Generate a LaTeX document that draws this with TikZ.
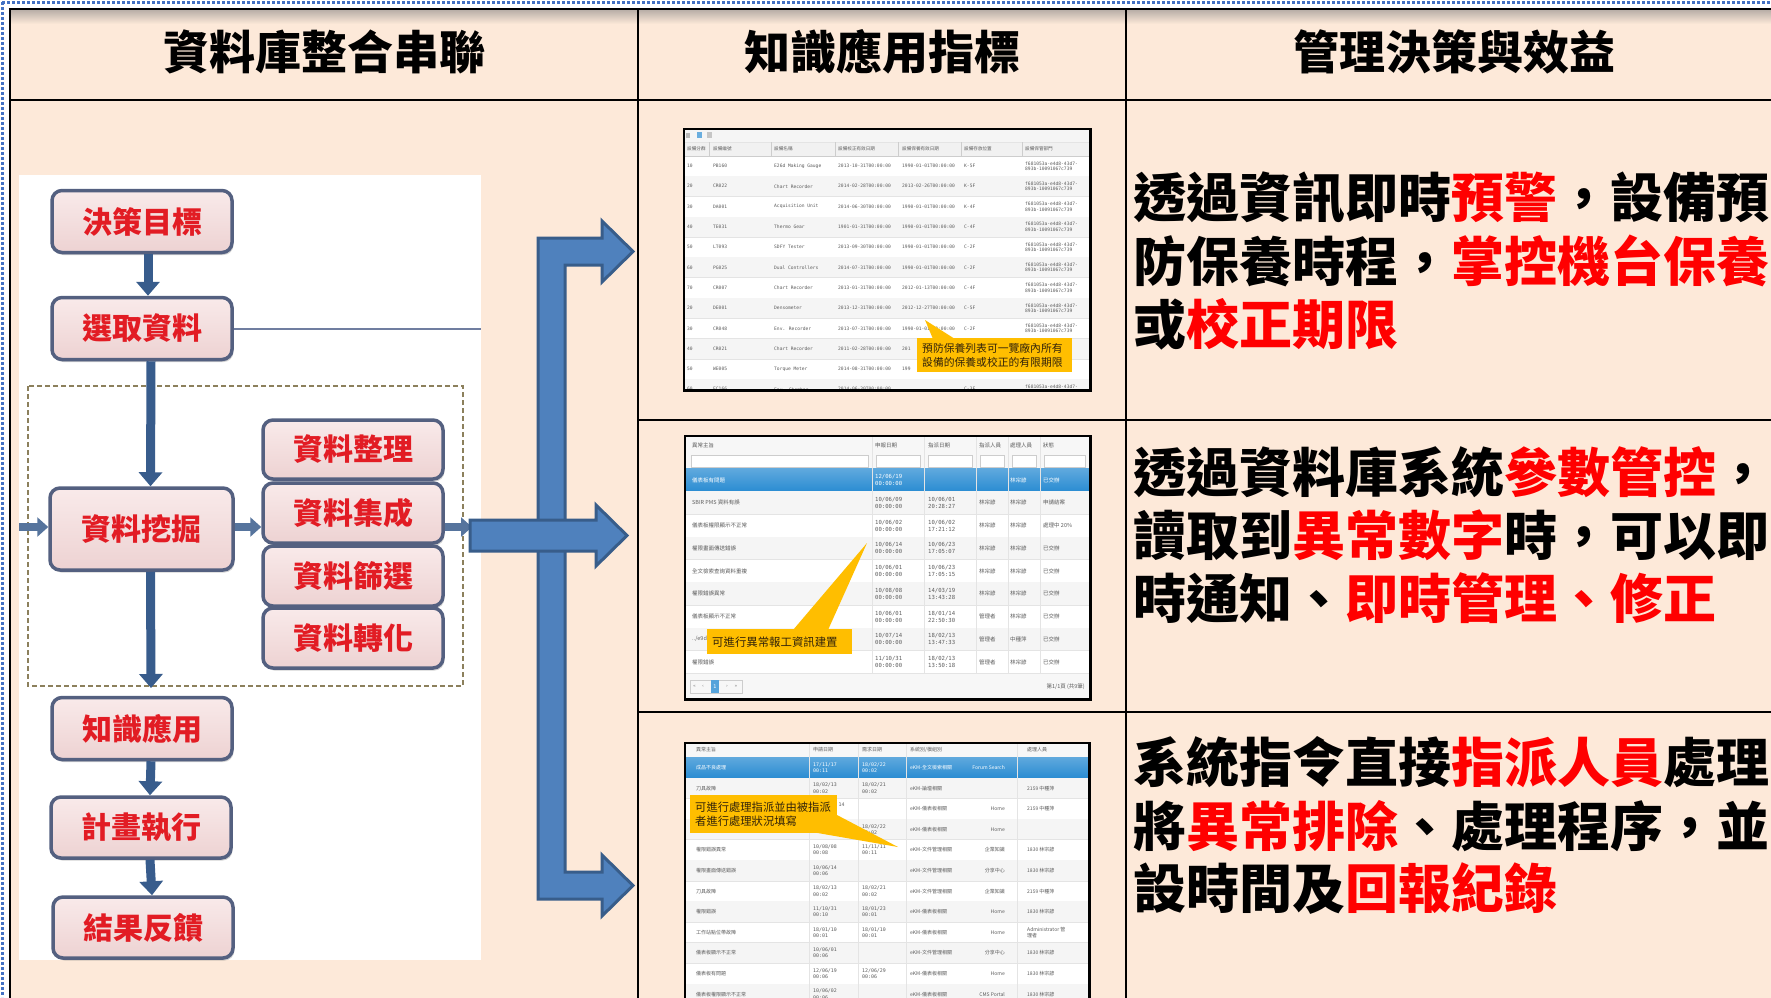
\documentclass[tikz,border=0pt]{standalone}
\usepackage{fontspec}
\setmainfont{Noto Sans CJK TC}
\newfontfamily\tmono{DejaVu Sans Mono}
\newfontfamily\dejavu{DejaVu Sans}
\usetikzlibrary{arrows.meta,shadows,calc}

\definecolor{peach}{RGB}{253,233,217}
\definecolor{hdrshade}{RGB}{185,175,168}
\definecolor{dotblue}{RGB}{68,114,196}
\definecolor{boxtop}{RGB}{249,234,234}
\definecolor{boxfill}{RGB}{237,210,210}
\definecolor{boxedge}{RGB}{84,96,128}
\definecolor{boxred}{RGB}{226,28,36}
\definecolor{flowblue}{RGB}{56,92,140}
\definecolor{bigfill}{RGB}{79,129,189}
\definecolor{bigedge}{RGB}{56,93,138}
\definecolor{dashcol}{RGB}{140,128,92}
\definecolor{linkgray}{RGB}{112,126,160}
\definecolor{tgray}{RGB}{92,92,92}
\definecolor{stripe}{RGB}{245,245,245}
\definecolor{selblue}{RGB}{42,140,210}
\definecolor{gold}{RGB}{255,190,0}
\definecolor{calltext}{RGB}{50,35,10}
\definecolor{hdrgray}{RGB}{241,241,241}
\definecolor{sepgray}{RGB}{205,205,205}
\definecolor{rowgray}{RGB}{228,228,228}

\tikzset{
  dotline/.style={draw=dotblue, line width=3pt, dash pattern=on 2.5pt off 2.5pt},
  tline/.style={draw=black, line width=2.8pt},
  hdr/.style={inner sep=0pt, font=\bfseries\fontsize{46}{50}\selectfont},
  rtext/.style={anchor=west, inner sep=0pt, font=\bfseries\fontsize{53}{60}\selectfont},
  fbox/.style={draw=boxedge, line width=3.5pt, rounded corners=10pt,
    top color=boxtop, bottom color=boxfill, text=boxred,
    font=\bfseries\fontsize{30}{32}\selectfont, minimum width=180pt,
    minimum height=62pt, inner sep=0pt,
    drop shadow={shadow xshift=1.5pt, shadow yshift=-2.5pt, opacity=0.35}},
  farrow/.style={draw=flowblue, line width=9pt, -{Triangle[width=23pt,length=14pt]}},
  sarrow/.style={draw=flowblue!85!white, line width=8pt, -{Triangle[width=19pt,length=11pt]}},
  dashbox/.style={draw=dashcol, line width=2pt, dash pattern=on 5pt off 3pt},
  bigarrow/.style={fill=bigfill, draw=bigedge, line width=3pt, line join=miter},
  shot/.style={fill=white, draw=none, inner sep=0pt, anchor=north west,
    drop shadow={shadow xshift=2pt, shadow yshift=-2pt, opacity=0.3}},
  shotframe/.style={draw=black, line width=2.5pt},
  rowline/.style={draw=rowgray, line width=0.5pt},
  tI/.style={inner sep=0pt, anchor=west, text=tgray, font=\tmono\fontsize{4.6}{5.4}\selectfont},
  tIh/.style={inner sep=0pt, anchor=west, text=tgray, font=\fontsize{4.6}{5.4}\selectfont},
  tIIc/.style={inner sep=0pt, anchor=west, text=\rowtext, font=\fontsize{5.5}{6.5}\selectfont},
  tIIm/.style={inner sep=0pt, anchor=west, align=left, text=\rowtext, font=\tmono\fontsize{5.6}{7}\selectfont},
  tIIIc/.style={inner sep=0pt, anchor=west, align=left, text=\rowtext, font=\fontsize{5}{6}\selectfont},
  tIIIm/.style={inner sep=0pt, anchor=west, align=left, text=\rowtext, font=\tmono\fontsize{4.9}{6.2}\selectfont},
  callbox/.style={fill=gold, draw=none, inner sep=5pt, align=left, text=calltext},
}
\def\rowtext{tgray}

% table 1 row
\newcommand\tIrow[8]{%
  \pgfmathsetmacro\ry{166+20.3*#1}%
  \ifodd#1\relax\fill[stripe] (685,\ry-10.15) rectangle (1089,\ry+10.15);\fi
  \draw[rowline] (685,\ry+10.15) -- (1089,\ry+10.15);
  \node[tI] (tIa#1) at (687,\ry) {#2};
  \node[tI] (tIb#1) at (713,\ry) {#3};
  \node[tI] (tIc#1) at (774,\ry) {#4};
  \node[tI] (tId#1) at (838,\ry) {#5};
  \node[tI] (tIe#1) at (902,\ry) {#6};
  \node[tI] (tIf#1) at (964,\ry) {#7};
  \node[tI, align=left] (tIg#1) at (1025,\ry) {#8};
}
\def\hexid{f681053a-e4d8-43d7-\\893b-10091067c739}
% table 2 row
\newcommand\tIIrow[9]{%
  \pgfmathsetmacro\ry{480+22.75*#1}%
  \ifnum#1=0\relax
    \shade[top color=selblue!75!white, bottom color=selblue] (686,\ry-11.37) rectangle (1089,\ry+11.37);
    \def\rowtext{white}%
  \else
    \def\rowtext{tgray}%
    \ifodd#1\relax\fill[stripe] (686,\ry-11.37) rectangle (1089,\ry+11.37);\fi
  \fi
  \draw[rowline] (686,\ry+11.37) -- (1089,\ry+11.37);
  \node[tIIc] (tIIs#1) at (692,\ry) {#2};
  \node[tIIm] (tIIa#1) at (875,\ry) {#3\\#4};
  \node[tIIm] (tIIb#1) at (928,\ry) {#5\\#6};
  \node[tIIc] (tIIp#1) at (979,\ry) {#7};
  \node[tIIc] (tIIq#1) at (1010,\ry) {#8};
  \node[tIIc] (tIIt#1) at (1043,\ry) {#9};
}
% table 3 row
\newcommand\tIIIrow[9]{%
  \pgfmathsetmacro\ry{767.5+20.6*#1}%
  \ifnum#1=0\relax
    \shade[top color=selblue!75!white, bottom color=selblue] (686,\ry-10.3) rectangle (1088,\ry+10.3);
    \def\rowtext{white}%
  \else
    \def\rowtext{tgray}%
    \ifodd#1\relax\fill[stripe] (686,\ry-10.3) rectangle (1088,\ry+10.3);\fi
  \fi
  \draw[rowline] (686,\ry+10.3) -- (1088,\ry+10.3);
  \node[tIIIc] (tIIIs#1) at (696,\ry) {#2};
  \node[tIIIm] (tIIIa#1) at (813,\ry) {#3\\#4};
  \node[tIIIm] (tIIIb#1) at (862,\ry) {#5\\#6};
  \node[tIIIc] (tIIIy#1) at (910,\ry) {#7};
  \node[tIIIc, anchor=east] (tIIIz#1) at (1005,\ry) {#8};
  \node[tIIIc] (tIIIp#1) at (1027,\ry) {#9};
}

\begin{document}
\begin{tikzpicture}[x=1pt,y=-1pt]
\useasboundingbox (0,0) rectangle (1771,997);
\clip (0,0) rectangle (1771,997);
\fill[white] (0,0) rectangle (1771,997);

% outer dotted frame
\draw[dotline] (2,2.5) -- (1771,2.5);
\draw[dotline] (2.5,2) -- (2.5,997);

% table background
\fill[peach] (10,9) rectangle (1790,1010);
\shade[top color=hdrshade, bottom color=peach] (10,10) rectangle (1790,24);

% grid lines
\draw[tline] (8.6,9) -- (1790,9);
\draw[tline] (10,9) -- (10,1010);
\draw[tline] (10,100) -- (1790,100);
\draw[tline] (638,9) -- (638,1010);
\draw[tline] (1126,9) -- (1126,1010);
\draw[tline] (638,420) -- (1790,420);
\draw[tline] (638,712) -- (1790,712);

% header texts
\node[hdr] (h1) at (324,52) {資料庫整合串聯};
\node[hdr] (h2) at (882,52) {知識應用指標};
\node[hdr] (h3) at (1454,52) {管理決策與效益};

% ---------------- left flowchart ----------------
\fill[white] (19,175) rectangle (481,960);
\draw[dashbox] (28,386) rectangle (463,686);

\node[fbox] (goal) at (142,221.5) {決策目標};
\node[fbox] (select) at (142,328.5) {選取資料};
\node[fbox, minimum width=183pt, minimum height=82pt] (mine) at (141.5,529) {資料挖掘};
\node[fbox, minimum height=59pt] (sort) at (353,449.5) {資料整理};
\node[fbox, minimum height=60pt] (integ) at (353,513) {資料集成};
\node[fbox, minimum height=60pt] (filt) at (353,576) {資料篩選};
\node[fbox, minimum height=60pt] (trans) at (353,638) {資料轉化};
\node[fbox] (know) at (142,728.5) {知識應用};
\node[fbox, minimum height=61pt] (plan) at (141,827.5) {計畫執行};
\node[fbox, minimum height=61pt] (feed) at (143,927.5) {結果反饋};

\coordinate (imgR) at (481,327);
\coordinate (inL) at (19,527);
\coordinate (outR) at (472,527);
\coordinate (dashBot) at (151,688);

\draw[linkgray, line width=2pt] (select.east) -- (select.east -| imgR);
\draw[farrow] ([xshift=6pt]goal.south) -- ([xshift=6pt]select.north);
\draw[farrow] ([xshift=9pt]select.south) -- ([xshift=9pt]mine.north);
\draw[sarrow] (inL) -- (inL -| mine.west);
\draw[sarrow] (mine.east |- inL) -- (inL -| integ.west);
\draw[sarrow] (integ.east |- outR) -- (outR);
\draw[farrow] ([xshift=9pt]mine.south) -- (dashBot);
\draw[farrow] ([xshift=9pt]know.south) -- ([xshift=9pt]plan.north);
\draw[farrow] ([xshift=9pt]plan.south) -- ([xshift=9pt]feed.north);

% ---------------- big blue arrows ----------------
\draw[bigarrow] (538,238) -- (602,238) -- (602,221) -- (633,251.5) -- (602,282)
  -- (602,265) -- (565,265) -- (565,872) -- (602,872) -- (602,855)
  -- (633,885.5) -- (602,916) -- (602,899) -- (538,899) -- cycle;
\draw[bigarrow] (470,520) -- (596,520) -- (596,505) -- (627,535.5) -- (596,566)
  -- (596,551) -- (470,551) -- cycle;

% ---------------- screenshot 1 ----------------
\node[shot, minimum width=406pt, minimum height=261pt] (shot1) at (684,129) {};
\begin{scope}
\clip (684,129) rectangle (1090,390);
\fill[stripe] (685,130) rectangle (1089,142);
\fill[gray!55] (686,133) rectangle (690,138);
\fill[selblue!70] (697,132) rectangle (702,138);
\fill[gray!45] (707,132) rectangle (712,138);
\fill[hdrgray] (685,142) rectangle (1089,156);
\draw[rowline] (685,142) -- (1089,142);
\draw[sepgray, line width=0.5pt] (685,156) -- (1089,156);
\foreach \xx in {709,771,835,898,961,1022} \draw[sepgray, line width=0.5pt] (\xx,142) -- (\xx,156);
\node[tIh] (tIh1) at (687,149) {設備分群};
\node[tIh] (tIh2) at (713,149) {設備編號};
\node[tIh] (tIh3) at (774,149) {設備名稱};
\node[tIh] (tIh4) at (838,149) {設備校正有效日期};
\node[tIh] (tIh5) at (902,149) {設備保養有效日期};
\node[tIh] (tIh6) at (964,149) {設備存放位置};
\node[tIh] (tIh7) at (1025,149) {設備保管部門};
\tIrow{0}{10}{PB160}{E26d Making Gauge}{2013-10-31T00:00:00}{1990-01-01T00:00:00}{K-5F}{\hexid}
\tIrow{1}{20}{CR022}{Chart Recorder}{2014-02-28T00:00:00}{2013-02-26T00:00:00}{K-5F}{\hexid}
\tIrow{2}{30}{DA001}{Acquisition Unit}{2014-06-30T00:00:00}{1990-01-01T00:00:00}{K-4F}{\hexid}
\tIrow{3}{40}{TE031}{Thermo Gear}{1901-01-31T00:00:00}{1990-01-01T00:00:00}{C-4F}{\hexid}
\tIrow{4}{50}{LT093}{SDFY Tester}{2013-09-30T00:00:00}{1990-01-01T00:00:00}{C-2F}{\hexid}
\tIrow{5}{60}{PG025}{Dual Controllers}{2014-07-31T00:00:00}{1990-01-01T00:00:00}{C-2F}{\hexid}
\tIrow{6}{70}{CR007}{Chart Recorder}{2013-01-31T00:00:00}{2012-01-13T00:00:00}{C-4F}{\hexid}
\tIrow{7}{20}{DE001}{Densometer}{2013-12-31T00:00:00}{2012-12-27T00:00:00}{C-5F}{\hexid}
\tIrow{8}{30}{CR048}{Env. Recorder}{2013-07-31T00:00:00}{1990-01-01T00:00:00}{C-2F}{\hexid}
\tIrow{9}{40}{CR021}{Chart Recorder}{2011-02-28T00:00:00}{201}{}{}
\tIrow{10}{50}{WE005}{Torque Meter}{2014-08-31T00:00:00}{199}{}{}
\tIrow{11}{60}{EC166}{Env. Chamber}{2014-06-30T00:00:00}{}{C-3F}{\hexid}
% callout 1
\fill[gold] (933,339) -- (925,320) -- (955,339) -- cycle;
\node[callbox, text width=145pt, minimum height=33pt, anchor=north west,
  font=\fontsize{10.8}{14}\selectfont] (call1) at (917,338)
  {預防保養列表可一覽廠內所有\\設備的保養或校正的有限期限};
\end{scope}
\draw[shotframe] (shot1.north west) rectangle (shot1.south east);

% ---------------- screenshot 2 ----------------
\node[shot, minimum width=405pt, minimum height=263pt] (shot2) at (685,436) {};
\begin{scope}
\clip (685,436) rectangle (1090,699);
\fill[white!97!black] (686,437) rectangle (1089,469);
\def\rowtext{tgray}
\node[tIIc] (tIIh1) at (692,445) {異常主旨};
\node[tIIc] (tIIh2) at (875,445) {申報日期};
\node[tIIc] (tIIh3) at (928,445) {指派日期};
\node[tIIc] (tIIh4) at (979,445) {指派人員};
\node[tIIc] (tIIh5) at (1010,445) {處理人員};
\node[tIIc] (tIIh6) at (1043,445) {狀態};
\foreach \xa/\xb in {691/868,876/920,928/972,980/1004,1012/1036,1044/1085}
  \draw[sepgray, fill=white, line width=0.5pt] (\xa,455) rectangle (\xb,467.5);
\tIIrow{0}{儀表板有問題}{12/06/19}{00:00:00}{}{}{}{林宗諺}{已交辦}
\tIIrow{1}{SBIR PMS 資料有誤}{10/06/09}{00:00:00}{10/06/01}{20:28:27}{林宗諺}{林宗諺}{申請結案}
\tIIrow{2}{儀表板權限顯示不正常}{10/06/02}{00:00:00}{10/06/02}{17:21:12}{林宗諺}{林宗諺}{處理中 20\%}
\tIIrow{3}{權限畫面傳送錯誤}{10/06/14}{00:00:00}{10/06/23}{17:05:07}{林宗諺}{林宗諺}{已交辦}
\tIIrow{4}{全文檢索查詢資料重複}{10/06/01}{00:00:00}{10/06/23}{17:05:15}{林宗諺}{林宗諺}{已交辦}
\tIIrow{5}{權限錯誤異常}{10/08/08}{00:00:00}{14/03/19}{13:43:28}{林宗諺}{林宗諺}{已交辦}
\tIIrow{6}{儀表板顯示不正常}{10/06/01}{00:00:00}{18/01/14}{22:50:30}{管理者}{林宗諺}{已交辦}
\tIIrow{7}{../\\e9da}{10/07/14}{00:00:00}{18/02/13}{13:47:33}{管理者}{中種萍}{已交辦}
\tIIrow{8}{權限錯誤}{11/10/31}{00:00:00}{18/02/13}{13:50:18}{管理者}{林宗諺}{已交辦}
\foreach \xx in {872,924,976,1008,1040} \draw[rowline] (\xx,437) -- (\xx,674);
\fill[white!97!black] (686,674) rectangle (1089,698);
\draw[sepgray, line width=0.5pt] (690,680) rectangle (742,693);
\fill[selblue!80!white] (711,680) rectangle (719,693);
\node[inner sep=0pt, text=gray, font=\dejavu\fontsize{4.5}{5}\selectfont] (pg1) at (694.5,686.5) {«};
\node[inner sep=0pt, text=gray, font=\dejavu\fontsize{4.5}{5}\selectfont] (pg2) at (703,686.5) {‹};
\node[inner sep=0pt, text=white, font=\dejavu\fontsize{5}{5}\selectfont] (pg3) at (715,686.5) {1};
\node[inner sep=0pt, text=gray, font=\dejavu\fontsize{4.5}{5}\selectfont] (pg4) at (727,686.5) {›};
\node[inner sep=0pt, text=gray, font=\dejavu\fontsize{4.5}{5}\selectfont] (pg5) at (736,686.5) {»};
\node[inner sep=0pt, anchor=east, text=tgray, font=\fontsize{5.5}{6}\selectfont] (pgtxt) at (1085,686.5) {第1/1頁 (共9筆)};
% callout 2
\fill[gold] (793,630) -- (867,543) -- (828,630) -- cycle;
\node[callbox, text width=135pt, minimum height=25pt, anchor=north west,
  font=\fontsize{11.4}{14}\selectfont] (call2) at (707,629) {可進行異常報工資訊建置};
\end{scope}
\draw[shotframe] (shot2.north west) rectangle (shot2.south east);

% ---------------- screenshot 3 ----------------
\node[shot, minimum width=404pt, minimum height=270pt] (shot3) at (685,743) {};
\begin{scope}
\clip (685,743) rectangle (1089,1013);
\fill[white!97!black] (686,744) rectangle (1088,757.5);
\def\rowtext{tgray}
\node[tIIIc] (tIIIh1) at (696,750) {異常主旨};
\node[tIIIc] (tIIIh2) at (813,750) {申請日期};
\node[tIIIc] (tIIIh3) at (862,750) {需求日期};
\node[tIIIc] (tIIIh4) at (910,750) {系統別/模組別};
\node[tIIIc] (tIIIh5) at (1027,750) {處理人員};
\tIIIrow{0}{成品不良處理}{17/11/17}{00:11}{18/02/22}{00:02}{eKM-全文檢索相關}{Forum Search}{}
\tIIIrow{1}{刀具故障}{18/02/13}{00:02}{18/02/21}{00:02}{eKM-論壇相關}{}{2159 中種萍}
\tIIIrow{2}{}{}{}{}{}{eKM-儀表板相關}{Home}{2159 中種萍}
\tIIIrow{3}{}{}{}{18/02/22}{00:02}{eKM-儀表板相關}{Home}{}
\tIIIrow{4}{權限錯誤異常}{10/08/08}{00:08}{11/11/11}{00:11}{eKM-文件管理相關}{企業知識}{1830 林宗諺}
\tIIIrow{5}{權限畫面傳送錯誤}{10/06/14}{00:06}{}{}{eKM-文件管理相關}{分享中心}{1830 林宗諺}
\tIIIrow{6}{刀具故障}{18/02/13}{00:02}{18/02/21}{00:02}{eKM-文件管理相關}{企業知識}{2159 中種萍}
\tIIIrow{7}{權限錯誤}{11/10/31}{00:10}{18/01/23}{00:01}{eKM-儀表板相關}{Home}{1830 林宗諺}
\tIIIrow{8}{工作站點位帶故障}{18/01/10}{00:01}{18/01/10}{00:01}{eKM-儀表板相關}{Home}{Administrator 管\\理者}
\tIIIrow{9}{儀表板顯示不正常}{10/06/01}{00:06}{}{}{eKM-文件管理相關}{分享中心}{1830 林宗諺}
\tIIIrow{10}{儀表板有問題}{12/06/19}{00:06}{12/06/29}{00:06}{eKM-儀表板相關}{Home}{1830 林宗諺}
\tIIIrow{11}{儀表板權限顯示不正常}{10/06/02}{00:06}{}{}{eKM-儀表板相關}{CMS Portal}{1830 林宗諺}
\node[tIIIm] (tIIIpeek) at (838.5,805) {14};
\foreach \xx in {809,858,906,1017} \draw[rowline] (\xx,744) -- (\xx,1013);
% callout 3
\fill[gold] (812,832) -- (898,847) -- (837,815) -- cycle;
\node[callbox, text width=137pt, minimum height=38pt, anchor=north west,
  font=\fontsize{11.3}{14.5}\selectfont] (call3) at (690,795)
  {可進行處理指派並由被指派\\者進行處理狀況填寫};
\end{scope}
\draw[shotframe] (shot3.north west) rectangle (shot3.south east);

% ---------------- right column texts ----------------
\node[rtext] (r1a) at (1133,198) {透過資訊即時{\color{red}預警}，設備預};
\node[rtext] (r1b) at (1133,261) {防保養時程，{\color{red}掌控機台保養}};
\node[rtext] (r1c) at (1133,324) {或{\color{red}校正期限}};
\node[rtext] (r2a) at (1133,472) {透過資料庫系統{\color{red}參數管控}，};
\node[rtext] (r2b) at (1133,535) {讀取到{\color{red}異常數字}時，可以即};
\node[rtext] (r2c) at (1133,598) {時通知、{\color{red}即時管理、修正}};
\node[rtext] (r3a) at (1133,762) {系統指令直接{\color{red}指派人員}處理};
\node[rtext] (r3b) at (1133,826) {將{\color{red}異常排除}、處理程序，並};
\node[rtext] (r3c) at (1133,889) {設時間及{\color{red}回報紀錄}};
\end{tikzpicture}
\end{document}
